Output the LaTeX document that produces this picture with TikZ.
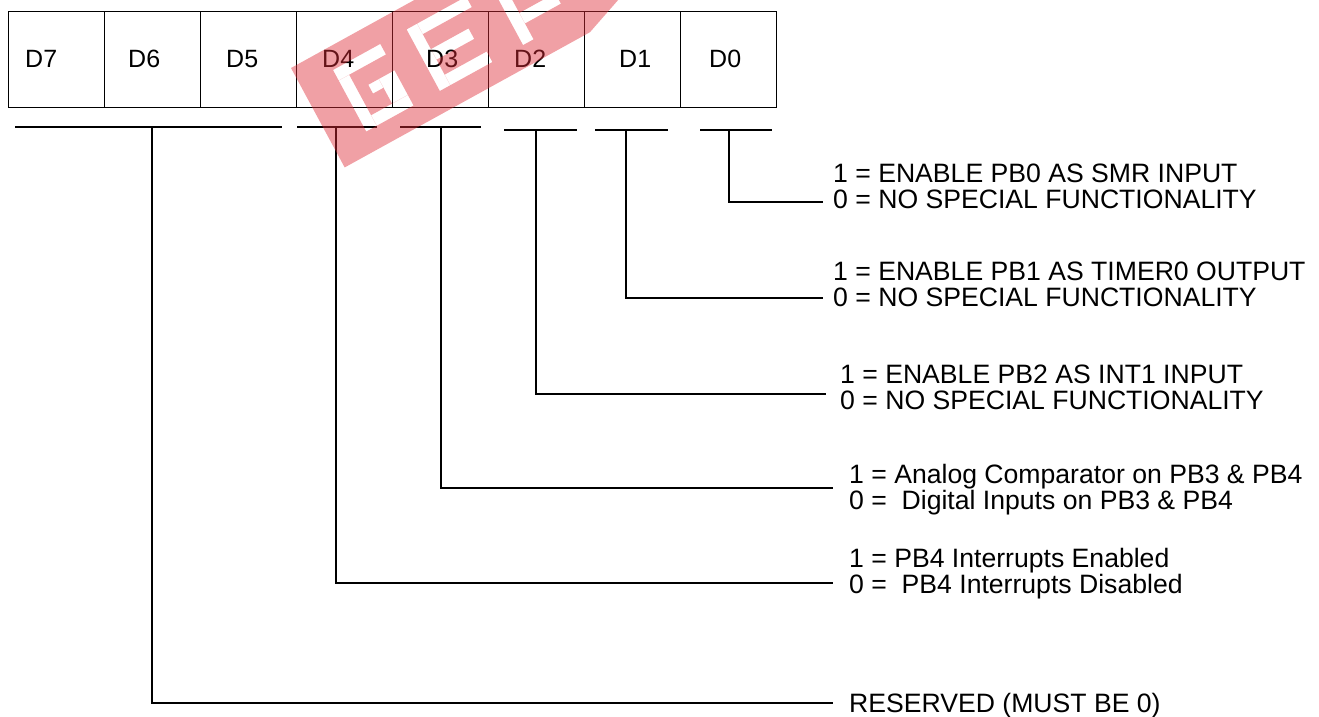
\documentclass[tikz,border=0pt]{standalone}
\usepackage{fontspec}
\setmainfont{Liberation Sans}
\usetikzlibrary{positioning}
\definecolor{wmred}{RGB}{222,44,55}
\tikzset{
  font=\fontsize{25}{26}\selectfont,
  cell/.style={draw,line width=1.2pt,minimum width=96pt,minimum height=96pt,
               inner sep=0pt,anchor=north west},
  bitlbl/.style={anchor=base west,inner sep=0pt},
  desc/.style={anchor=base west,inner sep=0pt,align=left,
               font=\fontsize{26.6}{26}\selectfont},
  lead/.style={line width=1.2pt},
  wmark/.style={fill=wmred,fill opacity=0.45,even odd rule},
}

\begin{document}
\begin{tikzpicture}[x=1pt,y=-1pt]
  \useasboundingbox (0,0) rectangle (1319,716);

  % ---- register cells D7..D0 ----
  \foreach \i in {0,...,7}{
    \pgfmathtruncatemacro\b{7-\i}
    \node[cell] (c\b) at ({8+96*\i},11) {};
  }
  \foreach \b/\x in {7/25,6/128,5/226,4/322,3/426,2/514,1/619,0/709}{
    \node[bitlbl] (l\b) at (\x,67) {D\b};
  }

  % ---- field stubs under the register ----
  \foreach \a/\e/\y in {15/282/127,297/377/127,400/481/127,
                        504/577/130,595/668/130,700/772/130}{
    \draw[lead] (\a,\y) -- (\e,\y);
  }
  \coordinate (s7) at (152,127);
  \coordinate (s4) at (336,127);
  \coordinate (s3) at (441,127);
  \coordinate (s2) at (536,130);
  \coordinate (s1) at (626,130);
  \coordinate (s0) at (729,130);

  % ---- descriptions (anchored on the last line) ----
  \node[desc] (t0) at (833,208) {1 = ENABLE PB0 AS SMR INPUT\\0 = NO SPECIAL FUNCTIONALITY};
  \node[desc] (t1) at (833,306) {1 = ENABLE PB1 AS TIMER0 OUTPUT\\0 = NO SPECIAL FUNCTIONALITY};
  \node[desc] (t2) at (840,409) {1 = ENABLE PB2 AS INT1 INPUT\\0 = NO SPECIAL FUNCTIONALITY};
  \node[desc] (t3) at (849,509) {1 = Analog Comparator on PB3 \& PB4\\0 =\ \ Digital Inputs on PB3 \& PB4};
  \node[desc] (t4) at (849,593) {1 = PB4 Interrupts Enabled\\0 =\ \ PB4 Interrupts Disabled};
  \node[desc] (t7) at (849,712) {RESERVED (MUST BE 0)};

  \coordinate (e0) at (823,202);
  \coordinate (e1) at (823,298);
  \coordinate (e2) at (826,394);
  \coordinate (e3) at (833,488);
  \coordinate (e4) at (833,583);
  \coordinate (e7) at (833,703);
  \foreach \n in {0,1,2,3,4,7}{
    \draw[lead] (s\n) |- (e\n);
  }

  % ---- watermark ----
  \begin{scope}
    \clip (0,0) rectangle (1319,716);
    \begin{scope}[shift={(291,68)},x={(0.876pt,0.483pt)},y={(0.475pt,-0.880pt)}]
      \fill[wmark] (0,0) -- (590,0) -- (280,113) -- (0,113) -- cycle
        \foreach \a/\b/\c/\d in {36/22/90/34,36/34/48/92,48/80/90/92,72/52/90/80,60/52/72/62,
                                 120/22/132/92,132/22/188/34,132/51/175/63,132/80/180/92,
                                 215/22/227/92,227/22/275/34,227/62/268/74}{
          (\a,\b) -- (\c,\b) -- (\c,\d) -- (\a,\d) -- cycle
        };
    \end{scope}
  \end{scope}
\end{tikzpicture}
\end{document}
